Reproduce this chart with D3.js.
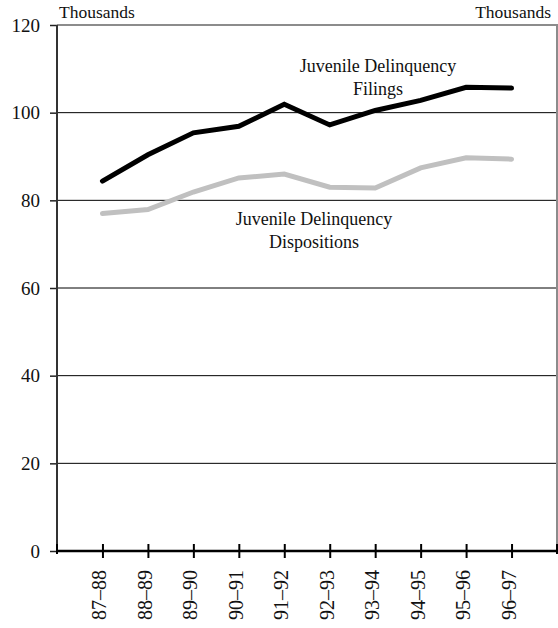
<!DOCTYPE html>
<html>
<head>
<meta charset="utf-8">
<script src="https://cdn.jsdelivr.net/npm/d3@7"></script>
<style>
  html, body { margin: 0; padding: 0; background: #fff; }
  svg text { font-family: "Liberation Serif", "DejaVu Serif", serif !important; }
</style>
</head>
<body>
<svg id="chart" width="558" height="628"></svg>
<script>
const categories = ["87\u201388","88\u201389","89\u201390","90\u201391","91\u201392","92\u201393","93\u201394","94\u201395","95\u201396","96\u201397"];
const filings = [84.4, 90.4, 95.4, 96.9, 101.9, 97.2, 100.5, 102.8, 105.8, 105.6];
const dispositions = [77.0, 77.9, 81.9, 85.1, 86.0, 83.0, 82.8, 87.4, 89.7, 89.4];
const yTicks = [0, 20, 40, 60, 80, 100, 120];
const unitLabel = "Thousands";
const filingsLabel = ["Juvenile Delinquency", "Filings"];
const dispositionsLabel = ["Juvenile Delinquency", "Dispositions"];

(function () {
const svg = d3.select("#chart");
const pL = 57, pR = 557, pT = 25, pB = 551;

const x = d3.scalePoint().domain(categories).range([pL, pR]).padding(1);
const y = d3.scaleLinear().domain([0, 120]).range([pB, pT]);

// gridlines
svg.append("g").selectAll("line")
  .data(yTicks.filter(d => d > 0 && d < 120))
  .join("line")
  .attr("x1", pL).attr("x2", pR)
  .attr("y1", d => y(d)).attr("y2", d => y(d))
  .attr("stroke", "#000").attr("stroke-width", 1);

// top and right borders
svg.append("line").attr("x1", pL).attr("x2", pR + 1)
  .attr("y1", y(120)).attr("y2", y(120))
  .attr("stroke", "#8c8c8c").attr("stroke-width", 2);
svg.append("line").attr("x1", pR).attr("x2", pR)
  .attr("y1", y(120)).attr("y2", pB + 3)
  .attr("stroke", "#8c8c8c").attr("stroke-width", 2);

// y axis
const yAxis = svg.append("g").attr("transform", `translate(${pL},0)`)
  .call(d3.axisLeft(y).tickValues(yTicks).tickSize(7).tickPadding(10));
yAxis.attr("font-family", null).attr("font-size", null);
yAxis.select(".domain").remove();
yAxis.selectAll(".tick line").attr("stroke", "#222").attr("stroke-width", 1.5);
yAxis.selectAll(".tick text").style("font-size", "19px").attr("fill", "#111");
svg.append("line").attr("x1", pL).attr("x2", pL)
  .attr("y1", pT).attr("y2", pB + 3)
  .attr("stroke", "#333").attr("stroke-width", 2);

// x axis
const xAxis = svg.append("g").attr("transform", `translate(0,${pB})`)
  .call(d3.axisBottom(x).tickSize(7).tickFormat(() => ""));
xAxis.select(".domain").remove();
xAxis.selectAll(".tick line").attr("y1", -7).attr("y2", 7)
  .attr("stroke", "#000").attr("stroke-width", 2);
svg.append("line").attr("x1", pL - 1).attr("x2", pR + 1)
  .attr("y1", pB).attr("y2", pB)
  .attr("stroke", "#000").attr("stroke-width", 2.5);
[pL, pR].forEach(px => {
  svg.append("line").attr("x1", px).attr("x2", px)
    .attr("y1", pB - 7).attr("y2", pB + 3)
    .attr("stroke", "#000").attr("stroke-width", 2);
});
// rotated category labels
svg.append("g").selectAll("text")
  .data(categories)
  .join("text")
  .attr("transform", d => `translate(${x(d) + 4},570) rotate(-90)`)
  .attr("text-anchor", "end")
  .style("font-size", "20px")
  .attr("fill", "#111")
  .text(d => d);

// lines
const line = d3.line().x((d, i) => x(categories[i])).y(d => y(d));
svg.append("path").datum(dispositions)
  .attr("d", line).attr("fill", "none")
  .attr("stroke", "#c0c0c0").attr("stroke-width", 5)
  .attr("stroke-linejoin", "miter").attr("stroke-linecap", "round");
svg.append("path").datum(filings)
  .attr("d", line).attr("fill", "none")
  .attr("stroke", "#000").attr("stroke-width", 5)
  .attr("stroke-linejoin", "miter").attr("stroke-linecap", "round");

// unit labels
svg.append("text").attr("x", 59).attr("y", 18).style("font-size", "17.5px")
  .attr("fill", "#111").text(unitLabel);
svg.append("text").attr("x", 551).attr("y", 18).style("font-size", "17.5px")
  .attr("text-anchor", "end").attr("fill", "#111").text(unitLabel);

// annotations
const ann = (lines, cx, by) => {
  const t = svg.append("text").attr("text-anchor", "middle").style("font-size", "18px").attr("fill", "#111");
  lines.forEach((s, i) => t.append("tspan").attr("x", cx).attr("y", by + i * 22.5).text(s));
};
ann(filingsLabel, 378, 72);
ann(dispositionsLabel, 314, 225);
})();
</script>
</body>
</html>
